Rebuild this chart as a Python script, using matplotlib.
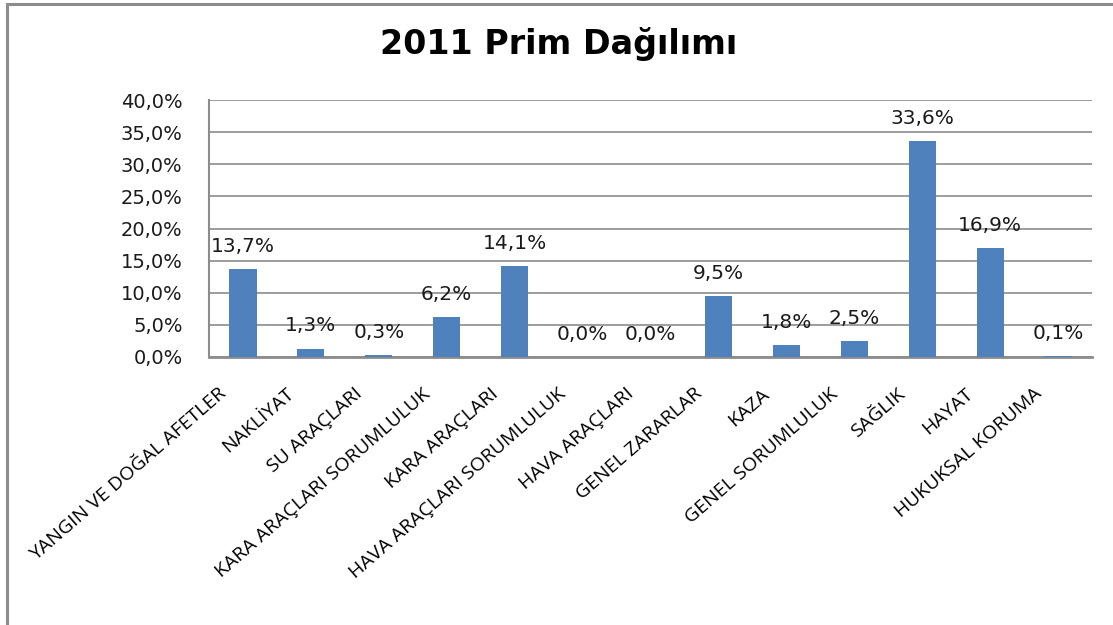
import matplotlib
matplotlib.use("Agg")
import matplotlib.pyplot as plt
from matplotlib.patches import Rectangle
from matplotlib.ticker import FuncFormatter
from matplotlib.transforms import ScaledTranslation

categories = ["YANGIN VE DOĞAL AFETLER", "NAKLİYAT", "SU ARAÇLARI",
              "KARA ARAÇLARI SORUMLULUK", "KARA ARAÇLARI",
              "HAVA ARAÇLARI SORUMLULUK", "HAVA ARAÇLARI", "GENEL ZARARLAR",
              "KAZA", "GENEL SORUMLULUK", "SAĞLIK", "HAYAT", "HUKUKSAL KORUMA"]
values = [13.7, 1.3, 0.3, 6.2, 14.1, 0.0, 0.0, 9.5, 1.8, 2.5, 33.6, 16.9, 0.1]
yticks = [0, 5, 10, 15, 20, 25, 30, 35, 40]
title = "2011 Prim Dağılımı"

W, H = 1113, 625
fig = plt.figure(figsize=(W / 100, H / 100), dpi=100)
fig.patch.set_facecolor("white")

# outer frame
fig.add_artist(Rectangle((7 / W, -0.01), 1.1, (H - 4) / H + 0.01, transform=fig.transFigure,
                         fill=False, edgecolor="#8c8c8c", linewidth=2.2))

ax = fig.add_axes([209 / W, 1 - 357 / H, (1092 - 209) / W, (357 - 100) / H])
x = list(range(len(categories)))
ax.bar(x, values, width=0.4, color="#4F81BD", zorder=3)
ax.set_xlim(-0.5, len(categories) - 0.5)
ax.set_ylim(0, 40)
ax.set_yticks(yticks)
ax.yaxis.set_major_formatter(FuncFormatter(lambda v, p: f"{v:.1f}%".replace(".", ",")))
ax.tick_params(axis="y", labelsize=14, length=0, pad=19, labelcolor="#1a1a1a")
ax.grid(axis="y", color="#8c8c8c", linewidth=1.2, zorder=0)
ax.set_axisbelow(True)
for s in ["top", "right"]:
    ax.spines[s].set_visible(False)
ax.spines["left"].set_color("#8c8c8c")
ax.spines["left"].set_linewidth(1.5)
ax.spines["bottom"].set_color("#8c8c8c")
ax.spines["bottom"].set_linewidth(2.0)

ax.set_xticks(x)
ax.set_xticklabels(categories, rotation=41, ha="right", va="top", rotation_mode="anchor",
                   fontsize=14, family="Open Sans")
ax.tick_params(axis="x", length=0, pad=20)
shift = ScaledTranslation(-25 / 100, 0, fig.dpi_scale_trans)
for lab in ax.get_xticklabels():
    lab.set_transform(lab.get_transform() + shift)

for xi, v in zip(x, values):
    ax.annotate(f"{v:.1f}%".replace(".", ","), (xi, v), xytext=(0, 16.5),
                textcoords="offset points", ha="center", va="center",
                fontsize=14.5, color="#1a1a1a", zorder=4)

fig.text(559 / W, 1 - 44 / H, title, ha="center", va="center", fontsize=24,
         fontweight="bold", family="DejaVu Sans")

fig.savefig("out.png", dpi=100)
